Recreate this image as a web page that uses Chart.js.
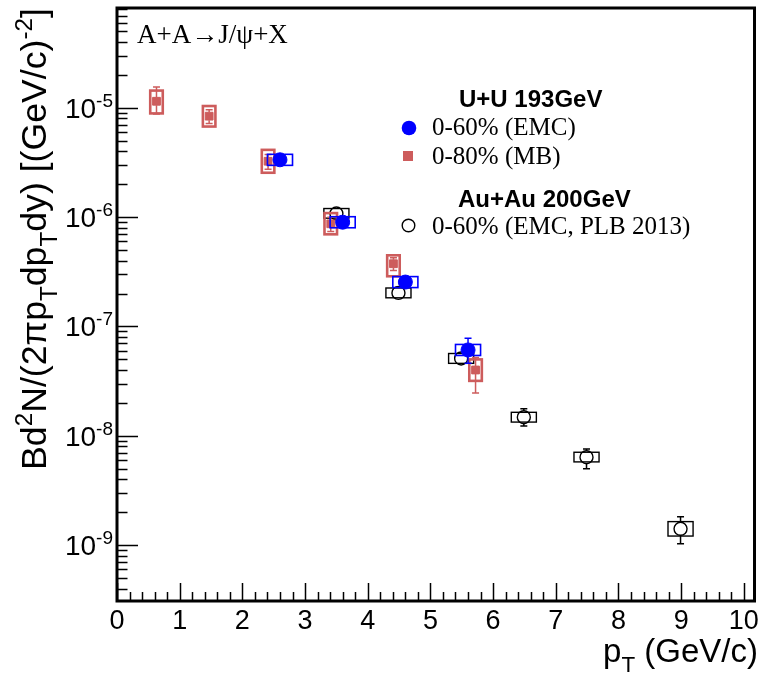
<!DOCTYPE html>
<html><head><meta charset="utf-8">
<script src="https://cdn.jsdelivr.net/npm/chart.js@4.4.1/dist/chart.umd.min.js"></script>
<style>html,body{margin:0;padding:0;background:#fff;}canvas{display:block;}</style>
</head><body>
<canvas id="c" width="763" height="675"></canvas>
<script>
// ---------- data ----------
// U+U 193 GeV, 0-60% (EMC)
const uuX      = [2.6, 3.6, 4.6, 5.6];
const uuY      = [3.35e-6, 9.0e-7, 2.55e-7, 6.1e-8];
const uuStatUp = [0.2e-6, 0.06e-6, 0.25e-7, 1.7e-8];
const uuStatDn = [0.2e-6, 0.06e-6, 0.25e-7, 1.5e-8];
const uuSysUp  = [0.41e-6, 1.1e-7, 3.1e-8, 0.75e-8];
const uuSysDn  = [0.37e-6, 1.0e-7, 2.8e-8, 0.67e-8];
// U+U 193 GeV, 0-80% (MB)
const mbX      = [0.63, 1.47, 2.41, 3.41, 4.41, 5.72];
const mbY      = [1.15e-5, 8.4e-6, 3.25e-6, 8.7e-7, 3.75e-7, 4.0e-8];
const mbStatUp = [0.4e-5, 1.2e-6, 0.5e-6, 1.3e-7, 0.5e-7, 1.2e-8];
const mbStatDn = [0.27e-5, 1.2e-6, 0.5e-6, 1.3e-7, 0.5e-7, 1.54e-8];
const mbSysUp  = [0.29e-5, 2.0e-6, 0.88e-6, 2.2e-7, 0.73e-7, 1.0e-8];
const mbSysDn  = [0.26e-5, 1.65e-6, 0.7e-6, 1.73e-7, 0.87e-7, 0.82e-8];
// Au+Au 200 GeV, 0-60% (EMC, PLB 2013)
const auX      = [3.5, 4.49, 5.49, 6.49, 7.49, 8.99];
const auY      = [1.08e-6, 2.03e-7, 5.1e-8, 1.48e-8, 6.37e-9, 1.41e-9];
const auStatUp = [0.05e-6, 0.1e-7, 0.25e-8, 0.29e-8, 1.2e-9, 0.41e-9];
const auStatDn = [0.05e-6, 0.1e-7, 0.25e-8, 0.25e-8, 1.37e-9, 0.38e-9];
const auSysUp  = [1.2e-7, 2.2e-8, 5.6e-9, 1.6e-9, 0.7e-9, 0.23e-9];
const auSysDn  = [1.0e-7, 2.0e-8, 5.0e-9, 1.45e-9, 0.6e-9, 0.2e-9];
// ticks
const xTicks    = [0,1,2,3,4,5,6,7,8,9,10];
const yTickExps = [-9,-8,-7,-6,-5];
// ranges
const xMin = 0, xMax = 10.17;
const yMin = 3.08e-10, yMax = 8.2e-5;

// ---------- styles ----------
const SANS  = "'Liberation Sans', Arial, sans-serif";
const SERIF = "'Liberation Serif', 'Times New Roman', serif";
const BLUE = '#0000ff', RED = '#cd5c5c', BLACK = '#000000';

function pts(xs, ys){ return xs.map((x,i)=>({x:x, y:ys[i]})); }

const datasets = [
  { label:'0-60% (EMC)', data: pts(uuX,uuY), pointStyle:'circle', pointRadius:7,
    backgroundColor:BLUE, borderColor:BLUE, borderWidth:1, showLine:false,
    statUp:uuStatUp, statDn:uuStatDn, sysUp:uuSysUp, sysDn:uuSysDn,
    boxHalf:0.2, boxColor:BLUE, boxLW:1.6, errColor:BLUE, gap:7 },
  { label:'0-80% (MB)', data: pts(mbX,mbY), pointStyle:'rect', pointRadius:5.5,
    backgroundColor:RED, borderColor:RED, borderWidth:1, showLine:false,
    statUp:mbStatUp, statDn:mbStatDn, sysUp:mbSysUp, sysDn:mbSysDn,
    boxHalf:0.1, boxColor:RED, boxLW:2.6, errColor:RED, gap:4 },
  { label:'0-60% (EMC, PLB 2013)', data: pts(auX,auY), pointStyle:'circle', pointRadius:6.5,
    backgroundColor:'rgba(0,0,0,0)', borderColor:BLACK, borderWidth:1.4, showLine:false,
    statUp:auStatUp, statDn:auStatDn, sysUp:auSysUp, sysDn:auSysDn,
    boxHalf:0.2, boxColor:BLACK, boxLW:1.4, errColor:BLACK, gap:6.5 }
];

// ---------- rich text helper ----------
function segFont(s, size, family, weight){
  const fs = s.k==='n' ? size : size*0.68;
  return weight+' '+fs+'px '+family;
}
function richWidth(ctx, segs, size, family, weight){
  let w=0;
  for (const s of segs){ ctx.font = segFont(s,size,family,weight); w += ctx.measureText(s.t).width; }
  return w;
}
function drawRich(ctx, segs, x, y, size, family, weight, align){
  const w = richWidth(ctx, segs, size, family, weight);
  let cx = align==='right' ? x-w : (align==='center' ? x-w/2 : x);
  ctx.textAlign='left'; ctx.textBaseline='alphabetic';
  for (const s of segs){
    ctx.font = segFont(s,size,family,weight);
    const dy = s.k==='sup' ? -size*0.40 : (s.k==='sub' ? size*0.30 : 0);
    ctx.fillText(s.t, cx, y+dy);
    cx += ctx.measureText(s.t).width;
  }
}

// ---------- error bars & systematic boxes ----------
const errPlugin = {
  id:'errs',
  beforeDatasetDraw(chart, args){
    const ds = chart.data.datasets[args.index];
    const xs = chart.scales.x, ys = chart.scales.y, ctx = chart.ctx;
    ctx.save();
    ds.data.forEach((p,i)=>{
      const px = xs.getPixelForValue(p.x), py = ys.getPixelForValue(p.y);
      const bl = xs.getPixelForValue(p.x-ds.boxHalf), br = xs.getPixelForValue(p.x+ds.boxHalf);
      const bt = ys.getPixelForValue(p.y+ds.sysUp[i]), bb = ys.getPixelForValue(p.y-ds.sysDn[i]);
      ctx.strokeStyle = ds.boxColor; ctx.lineWidth = ds.boxLW;
      ctx.strokeRect(bl, bt, br-bl, bb-bt);
      const et = ys.getPixelForValue(p.y+ds.statUp[i]), eb = ys.getPixelForValue(p.y-ds.statDn[i]);
      ctx.strokeStyle = ds.errColor; ctx.lineWidth = 1.5;
      ctx.beginPath();
      if (py-et > ds.gap){ ctx.moveTo(px, py-ds.gap); ctx.lineTo(px, et); ctx.moveTo(px-3.5, et); ctx.lineTo(px+3.5, et); }
      if (eb-py > ds.gap){ ctx.moveTo(px, py+ds.gap); ctx.lineTo(px, eb); ctx.moveTo(px-3.5, eb); ctx.lineTo(px+3.5, eb); }
      ctx.stroke();
    });
    ctx.restore();
  }
};

// ---------- frame, ticks, labels, legend ----------
const framePlugin = {
  id:'frame',
  afterDraw(chart){
    const ctx = chart.ctx, ca = chart.chartArea, xs = chart.scales.x, ys = chart.scales.y;
    ctx.save();
    ctx.strokeStyle = '#000'; ctx.fillStyle = '#000';
    ctx.lineWidth = 1.5;
    ctx.beginPath();
    for (let i=0;i<=50;i++){
      const v = i/5; const px = Math.round(xs.getPixelForValue(v))+0.5;
      const len = (i%5===0) ? 18 : 9;
      ctx.moveTo(px, ca.bottom); ctx.lineTo(px, ca.bottom-len);
    }
    for (let e=-10;e<=-4;e++){
      for (let m=1;m<=9;m++){
        const v = m*Math.pow(10,e);
        if (v < yMin || v > yMax) continue;
        const py = Math.round(ys.getPixelForValue(v))+0.5;
        const len = (m===1) ? 21 : 10.5;
        ctx.moveTo(ca.left, py); ctx.lineTo(ca.left+len, py);
      }
    }
    ctx.stroke();
    ctx.lineWidth = 3;
    ctx.strokeRect(ca.left, ca.top, ca.right-ca.left, ca.bottom-ca.top);
    // y tick labels
    yTickExps.forEach(e=>{
      const py = ys.getPixelForValue(Math.pow(10,e));
      drawRich(ctx, [{t:'10',k:'n'},{t:String(e),k:'sup'}], 113, py+10, 28, SANS, 'normal', 'right');
    });
    // y title
    const ySegs = [{t:'Bd',k:'n'},{t:'2',k:'sup'},{t:'N/(2\u03c0p',k:'n'},{t:'T',k:'sub'},{t:'dp',k:'n'},
                   {t:'T',k:'sub'},{t:'dy) [(GeV/c)',k:'n'},{t:'-2',k:'sup'},{t:']',k:'n'}];
    let ysz = 28; const yw = richWidth(ctx, ySegs, ysz, SANS, 'normal'); ysz = ysz*462/yw;
    ctx.save(); ctx.translate(46, 239); ctx.rotate(-Math.PI/2);
    drawRich(ctx, ySegs, 0, 0, ysz, SANS, 'normal', 'center');
    ctx.restore();
    // x title
    const xSegs = [{t:'p',k:'n'},{t:'T',k:'sub'},{t:' (GeV/c)',k:'n'}];
    drawRich(ctx, xSegs, 758, 662, 33, SANS, 'normal', 'right');
    // process label
    ctx.font = '27px '+SERIF; ctx.textAlign='left'; ctx.textBaseline='alphabetic';
    ctx.fillText('A+A\u2192J/\u03c8+X', 137, 43);
    // legend
    ctx.font = 'bold 24px '+SANS;
    ctx.fillText('U+U 193GeV', 459, 107);
    ctx.fillText('Au+Au 200GeV', 458, 207);
    ctx.font = '25px '+SERIF;
    ctx.fillText('0-60% (EMC)', 432, 135);
    ctx.fillText('0-80% (MB)', 432, 164);
    ctx.fillText('0-60% (EMC, PLB 2013)', 432, 234);
    ctx.fillStyle = BLUE; ctx.beginPath(); ctx.arc(409, 128, 7.3, 0, Math.PI*2); ctx.fill();
    ctx.fillStyle = RED; ctx.fillRect(403, 151, 10, 10);
    ctx.strokeStyle = BLACK; ctx.lineWidth = 1.4; ctx.beginPath(); ctx.arc(408.5, 225.5, 6.3, 0, Math.PI*2); ctx.stroke();
    ctx.restore();
  }
};

new Chart(document.getElementById('c').getContext('2d'), {
  type:'scatter',
  data:{ datasets: datasets },
  options:{
    responsive:false, animation:false, devicePixelRatio:1, events:[],
    layout:{ padding:{ top:8, right:2, left:0, bottom:0 } },
    plugins:{ legend:{display:false}, tooltip:{enabled:false} },
    scales:{
      x:{ type:'linear', min:xMin, max:xMax,
          grid:{display:false, drawTicks:false}, border:{display:false},
          afterBuildTicks:(s)=>{ s.ticks = xTicks.map(v=>({value:v})); },
          afterFit:(s)=>{ s.height = 74; },
          ticks:{ font:{family:SANS, size:27}, color:'#000', padding:4, maxRotation:0, autoSkip:false } },
      y:{ type:'logarithmic', min:yMin, max:yMax,
          grid:{display:false, drawTicks:false}, border:{display:false},
          ticks:{display:false},
          afterFit:(s)=>{ s.width = 117; } }
    }
  },
  plugins:[errPlugin, framePlugin]
});
</script>
</body></html>
